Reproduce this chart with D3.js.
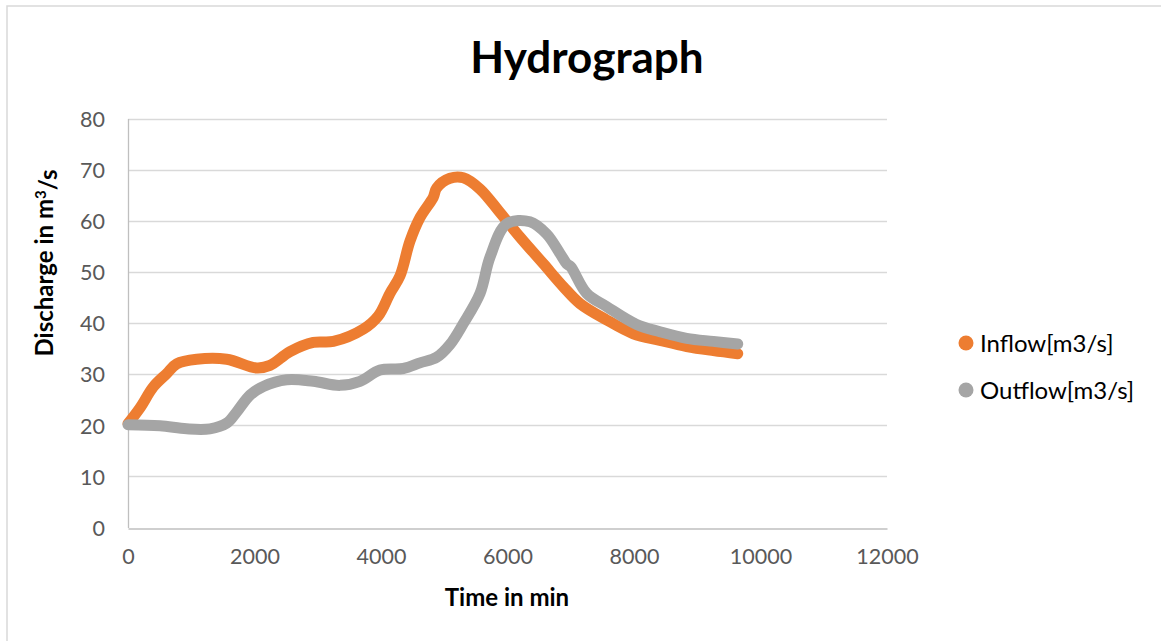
<!DOCTYPE html>
<html>
<head>
<meta charset="utf-8">
<script src="https://cdn.jsdelivr.net/npm/d3@7"></script>
<style>
  html, body { margin: 0; padding: 0; background: #fff; }
  svg { display: block; }
</style>
</head>
<body>
<svg id="chart" width="1161" height="641"></svg>
<script>
// Inflow hydrograph: time [min], discharge [m3/s]
const inflowTime = [0, 190, 400, 612, 770, 1086, 1560, 2035, 2245, 2561, 2930, 3246, 3720, 3958, 4142, 4300, 4458, 4616, 4827, 4880, 5091, 5302, 5566, 5881, 6198, 6566, 6882, 7146, 7568, 7989, 8410, 8833, 9254, 9640];
const inflowQ    = [20.3, 23.4, 27.5, 30.1, 32.0, 32.9, 32.9, 31.2, 31.7, 34.4, 36.2, 36.4, 38.8, 41.4, 45.8, 49.2, 56.0, 60.6, 64.6, 66.4, 68.3, 68.4, 66.2, 61.6, 56.8, 51.6, 47.1, 43.8, 40.6, 37.9, 36.6, 35.4, 34.6, 34.0];

// Outflow hydrograph: time [min], discharge [m3/s]
const outflowTime = [0, 506, 928, 1296, 1560, 1718, 1929, 2140, 2509, 2930, 3352, 3668, 3984, 4353, 4616, 4880, 5091, 5302, 5566, 5724, 5987, 6356, 6619, 6830, 6935, 7000, 7252, 7568, 8042, 8410, 8833, 9254, 9640];
const outflowQ    = [20.1, 19.9, 19.3, 19.3, 20.4, 22.6, 25.9, 27.6, 28.9, 28.6, 27.8, 28.6, 30.8, 31.1, 32.2, 33.3, 35.8, 39.9, 45.8, 52.9, 59.4, 59.8, 57.4, 53.6, 51.6, 51.0, 45.8, 43.2, 39.7, 38.3, 37.0, 36.4, 35.9];

const xTicks = [0, 2000, 4000, 6000, 8000, 10000, 12000];
const yTicks = [0, 10, 20, 30, 40, 50, 60, 70, 80];

const seriesNames = ["Inflow[m3/s]", "Outflow[m3/s]"];
const seriesColors = ["#ED7D31", "#A5A5A5"];

const font = "Lato, 'Open Sans', sans-serif";
const svg = d3.select("#chart");

// chart frame (left and top edges fall inside the page)
svg.append("rect")
  .attr("x", 7).attr("y", 6)
  .attr("width", 1180).attr("height", 660)
  .attr("fill", "#fff")
  .attr("stroke", "#D9D9D9").attr("stroke-width", 1.5);

const x = d3.scaleLinear().domain([0, 12000]).range([128, 887]);
const y = d3.scaleLinear().domain([0, 80]).range([527.5, 118.5]);

// horizontal gridlines
svg.append("g").selectAll("line")
  .data(yTicks.filter(d => d > 0))
  .join("line")
  .attr("x1", x(0)).attr("x2", x(12000))
  .attr("y1", d => Math.round(y(d)) + 0.5).attr("y2", d => Math.round(y(d)) + 0.5)
  .attr("stroke", "#D9D9D9").attr("stroke-width", 1.3);

// axes
const xAxis = svg.append("g")
  .attr("transform", `translate(0,${Math.round(y(0)) + 0.5})`)
  .call(d3.axisBottom(x).tickValues(xTicks).tickSize(0).tickPadding(23).tickFormat(d3.format("d")));
const yAxis = svg.append("g")
  .attr("transform", `translate(${x(0)},0)`)
  .call(d3.axisLeft(y).tickValues(yTicks).tickSize(0).tickPadding(23));

[xAxis, yAxis].forEach(a => {
  a.select(".domain").attr("stroke", "#BFBFBF").attr("stroke-width", 1.3);
  a.selectAll("text")
    .attr("fill", "#595959")
    .style("font-family", font)
    .style("font-size", "21.5px");
});
xAxis.selectAll("text").attr("dy", "0.6em");
yAxis.selectAll("text").attr("dy", "0.36em");

// series lines, smoothed
const line = d3.line()
  .x(d => x(d[0])).y(d => y(d[1]))
  .curve(d3.curveCatmullRom.alpha(0.5));

const series = [
  d3.zip(inflowTime, inflowQ),
  d3.zip(outflowTime, outflowQ)
];

svg.append("g").selectAll("path")
  .data(series)
  .join("path")
  .attr("d", line)
  .attr("fill", "none")
  .attr("stroke", (d, i) => seriesColors[i])
  .attr("stroke-width", 11)
  .attr("stroke-linecap", "round")
  .attr("stroke-linejoin", "round");

// title
svg.append("text")
  .attr("x", 587).attr("y", 73)
  .attr("text-anchor", "middle")
  .style("font-family", font)
  .style("font-weight", "bold")
  .style("font-size", "44px")
  .attr("fill", "#000")
  .text("Hydrograph");

// axis titles
svg.append("text")
  .attr("x", 507).attr("y", 606)
  .attr("text-anchor", "middle")
  .style("font-family", font)
  .style("font-weight", "bold")
  .style("font-size", "24px")
  .attr("fill", "#000")
  .text("Time in min");

const yTitle = svg.append("text")
  .attr("transform", "translate(53,263) rotate(-90)")
  .attr("text-anchor", "middle")
  .style("font-family", font)
  .style("font-weight", "bold")
  .style("font-size", "24px")
  .attr("fill", "#000");
yTitle.append("tspan").text("Discharge in m");
yTitle.append("tspan").text("3").attr("dy", "-0.45em").style("font-size", "15px");
yTitle.append("tspan").text("/s").attr("dy", "0.45em");

// legend
const legend = svg.append("g").selectAll("g")
  .data(seriesNames)
  .join("g")
  .attr("transform", (d, i) => `translate(966,${343 + i * 47})`);
legend.append("circle")
  .attr("r", 7.5)
  .attr("fill", (d, i) => seriesColors[i]);
legend.append("text")
  .attr("x", 14).attr("dy", "0.36em")
  .style("font-family", font)
  .style("font-size", "24px")
  .attr("fill", "#000")
  .text(d => d);
</script>
</body>
</html>
